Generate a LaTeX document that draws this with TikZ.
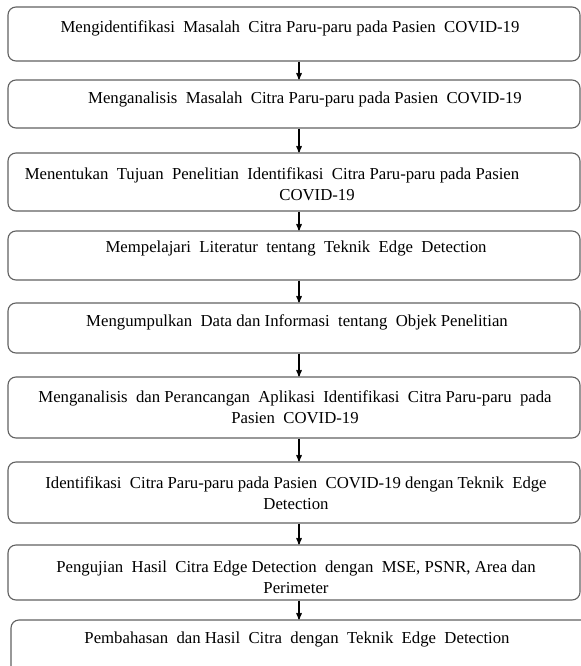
\documentclass[tikz,border=0pt]{standalone}
\usepackage{fontspec}
\setmainfont{Liberation Serif}
\usetikzlibrary{arrows}
\tikzset{
	x=1bp,
	y=-1bp,
	>=stealth',
	stepbox/.style={
		draw=black!62,
		line width=1.1bp,
		rounded corners=8bp,
		minimum width=572bp,
		inner sep=0pt
	},
	steptext/.style={
		font=\fontsize{16.8}{21}\selectfont,
		align=center,
		inner sep=0pt
	},
	flow/.style={->, line width=1.3bp}
}

\begin{document}
\begin{tikzpicture}
  \useasboundingbox (0,0) rectangle (581,666);
  \node [stepbox, minimum height=54bp] (b1) at (294,34) {};
  \node [stepbox, minimum height=48bp] (b2) at (294,104) {};
  \node [stepbox, minimum height=58bp] (b3) at (294,182) {};
  \node [stepbox, minimum height=49bp] (b4) at (294,255.5) {};
  \node [stepbox, minimum height=50bp] (b5) at (294,328) {};
  \node [stepbox, minimum height=61bp] (b6) at (294,407.5) {};
  \node [stepbox, minimum height=61bp] (b7) at (294,492.5) {};
  \node [stepbox, minimum height=55bp] (b8) at (294,572.5) {};
  \node [stepbox, minimum height=60bp, minimum width=580bp] (b9) at (301,650) {};

  \node [steptext] (t1) at (290,28) {Mengidentifikasi\ \ Masalah\ \ Citra Paru-paru pada Pasien\ \ COVID-19};
  \node [steptext] (t2) at (305,99) {Menganalisis\ \ Masalah\ \ Citra Paru-paru pada Pasien\ \ COVID-19};
  \node [steptext] (t3) at (272,184) {Menentukan\ \ Tujuan\ \ Penelitian\ \ Identifikasi\ \ Citra Paru-paru pada Pasien\\\hspace*{90bp}COVID-19};
  \node [steptext] (t4) at (296,248) {Mempelajari\ \ Literatur\ \ tentang\ \ Teknik\ \ Edge\ \ Detection};
  \node [steptext] (t5) at (297,322) {Mengumpulkan\ \ Data dan Informasi\ \ tentang\ \ Objek Penelitian};
  \node [steptext] (t6) at (295,407) {Menganalisis\ \ dan Perancangan\ \ Aplikasi\ \ Identifikasi\ \ Citra Paru-paru\ \ pada\\Pasien\ \ COVID-19};
  \node [steptext] (t7) at (296,493) {Identifikasi\ \ Citra Paru-paru pada Pasien\ \ COVID-19 dengan Teknik\ \ Edge\\Detection};
  \node [steptext] (t8) at (296,577) {Pengujian\ \ Hasil\ \ Citra Edge Detection\ \ dengan\ \ MSE, PSNR, Area dan\\Perimeter};
  \node [steptext] (t9) at (297,639) {Pembahasan\ \ dan Hasil\ \ Citra\ \ dengan\ \ Teknik\ \ Edge\ \ Detection};

  \foreach \a/\b in {b1/b2,b2/b3,b3/b4,b4/b5,b5/b6,b6/b7,b7/b8,b8/b9}
    \draw [flow] ([xshift=5bp]\a.south) -- ([xshift=5bp]\a.south |- \b.north);
\end{tikzpicture}
\end{document}
